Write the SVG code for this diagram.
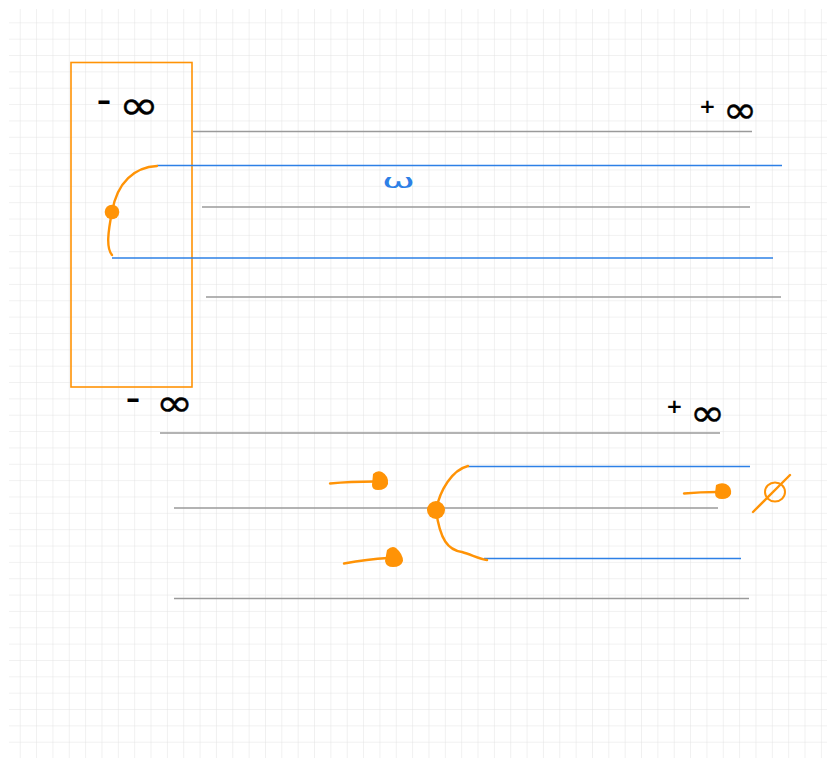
<svg xmlns="http://www.w3.org/2000/svg" width="827" height="758" viewBox="0 0 827 758">
<defs>
<pattern id="grid" patternUnits="userSpaceOnUse" x="4.35" y="6.95" width="16.35" height="16.35">
<path d="M16.35 0V16.35M0 16.35H16.35" fill="none" stroke="#e3e3e3" stroke-width="1"/>
</pattern>
<style>
.g{stroke:#9a9a9a;stroke-width:1.4;fill:none}
.b{stroke:#2d80e6;stroke-width:1.6;fill:none}
.o{stroke:#ff9306;stroke-width:2.4;fill:none;stroke-linecap:round}
.of{fill:#ff9306}
.t{font-family:"DejaVu Sans",sans-serif;fill:#000}
.d{font-weight:bold}
.i{stroke:#000;stroke-width:0.4}
</style>
</defs>
<rect width="827" height="758" fill="#fff"/>
<rect x="9" y="9" width="818" height="749" fill="url(#grid)"/>

<g id="frame">
<rect x="71" y="62.5" width="121" height="324.5" fill="none" stroke="#ff9306" stroke-width="1.6"/>
</g>

<g id="lines-top">
<line class="g" x1="193" y1="131.5" x2="752" y2="131.5"/>
<line class="g" x1="202" y1="207" x2="750" y2="207"/>
<line class="g" x1="206" y1="297" x2="781" y2="297"/>
<line class="b" x1="157" y1="165.5" x2="782" y2="165.5"/>
<line class="b" x1="112" y1="258" x2="773" y2="258"/>
</g>

<g id="lines-bottom">
<line class="g" x1="160" y1="433" x2="720" y2="433"/>
<line class="g" x1="174" y1="508" x2="718" y2="508"/>
<line class="g" x1="174" y1="598.5" x2="749" y2="598.5"/>
<line class="b" x1="468" y1="466.5" x2="750" y2="466.5"/>
<line class="b" x1="484" y1="558.5" x2="741" y2="558.5"/>
</g>

<g id="connectors">
<path class="o" d="M157,166 C135,167 117,182 112,212 C108,232 106,248 112,255"/>
<circle class="of" cx="112" cy="212" r="7.3"/>
<path class="o" d="M468,466 C452,470 440,490 436,510 C440,540 448,550 462,552 C472,555 480,559 487,560"/>
<circle class="of" cx="436" cy="510" r="9"/>
<path class="o" d="M330,483.5 C345,482 360,481.5 375,481.5"/>
<path class="of" d="M373,474 Q377,470 382,472 Q389,476 388,484 Q386,490 378,490 Q372,490 372,485 Z"/>
<path class="o" d="M344,563.5 C358,561 372,559 388,558"/>
<path class="of" d="M387,550 Q392,545 396,548 Q403,554 403,561 Q401,567 393,567 Q386,567 385,561 Z"/>
<path class="o" d="M684,493.5 C695,492.5 706,492 717,492"/>
<path class="of" d="M716,485 Q721,482 726,484 Q732,487 731,494 Q729,499 722,499 Q715,499 715,493 Z"/>
</g>

<g id="labels">
<g id="neg-inf-top"><text class="t d" x="97" y="110" font-size="28">–</text><text class="t i" x="119" y="118.5" font-size="40" textLength="40" lengthAdjust="spacingAndGlyphs">∞</text></g>
<g id="pos-inf-top"><text class="t d" x="699" y="113" font-size="20">+</text><text class="t i" x="723" y="122.5" font-size="38" textLength="34" lengthAdjust="spacingAndGlyphs">∞</text></g>
<g id="omega"><text x="382" y="188" font-size="19" font-family="DejaVu Sans,sans-serif" fill="#2d80e6" textLength="33" lengthAdjust="spacingAndGlyphs">ω</text></g>
<g id="neg-inf-bottom"><text class="t d" x="126" y="408" font-size="28">–</text><text class="t i" x="156" y="415.5" font-size="38" textLength="37" lengthAdjust="spacingAndGlyphs">∞</text></g>
<g id="pos-inf-bottom"><text class="t d" x="666" y="413" font-size="20">+</text><text class="t i" x="690" y="425.5" font-size="38" textLength="35" lengthAdjust="spacingAndGlyphs">∞</text></g>
<g id="empty-set"><ellipse cx="775" cy="492" rx="10" ry="9.5" fill="none" stroke="#ff9306" stroke-width="2"/><path class="o" d="M753,512 L790,475"/></g>
</g>
</svg>
